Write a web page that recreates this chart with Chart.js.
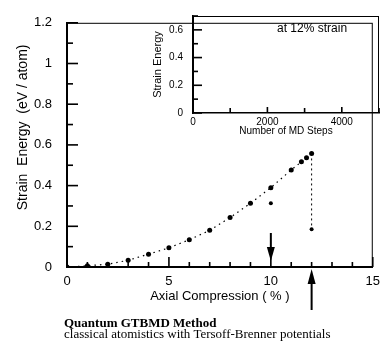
<!DOCTYPE html>
<html>
<head>
<meta charset="utf-8">
<script src="https://cdn.jsdelivr.net/npm/chart.js@4"></script>
<style>
  body { margin: 0; background: #fff; }
  #wrap { position: relative; width: 387px; height: 350px; overflow: hidden; }
  #main { position: absolute; left: 0; top: 0; }
  #inset { position: absolute; left: 130px; top: 0; }
  .cap { position: absolute; left: 64px; font-family: "Liberation Serif", serif; font-size: 13px; line-height: 12px; color: #000; white-space: nowrap; }
  #cap1 { top: 317px; font-weight: bold; }
  #cap2 { top: 328px; }
</style>
</head>
<body>
<div id="wrap">
  <canvas id="main" width="387" height="350"></canvas>
  <canvas id="inset" width="257" height="145"></canvas>
  <div class="cap" id="cap1">Quantum GTBMD Method</div>
  <div class="cap" id="cap2">classical atomistics with Tersoff-Brenner potentials</div>
</div>
<script>
// axial compression (%) and strain energy (eV/atom)
const strainPct = [0, 1, 2, 3, 4, 5, 6, 7, 8, 9, 10, 11, 11.5, 11.75, 12];
const energy = [0, 0.006, 0.014, 0.033, 0.063, 0.094, 0.134, 0.18, 0.243, 0.313, 0.39, 0.477, 0.517, 0.537, 0.558];
const extraPct = [10, 12];
const extraEnergy = [0.313, 0.186];
const dropPct = [12, 12];
const dropEnergy = [0.558, 0.186];

const xTicks = [0, 5, 10, 15];
const yTicks = [0, 0.2, 0.4, 0.6, 0.8, 1, 1.2];
const insetXTicks = [0, 2000, 4000];
const insetYTicks = [0, 0.2, 0.4, 0.6];
const arrowsDown = [10];
const arrowsUp = [12];

const pts = (xs, ys) => xs.map((x, i) => ({x: x, y: ys[i]}));
const font = 'Liberation Sans';

// inward tick settings per chart
const mainTicks = { yStep: 0.1, yN: 12, yEvery: 2, yLong: 11, yShort: 6, xStep: 1, xN: 15, xEvery: 5, xLong: 10, xShort: 5 };
const insetTicks = { yStep: 0.1, yN: 7, yEvery: 2, yLong: 9, yShort: 5, xStep: 1000, xN: 5, xEvery: 2, xLong: 6, xShort: 5 };

// box frame + inward ticks
function makeFrame(t, label) {
  return {
    id: 'frame',
    afterDraw(chart) {
      const ctx = chart.ctx;
      const a = chart.chartArea;
      const x = chart.scales.x, y = chart.scales.y;
      ctx.save();
      ctx.strokeStyle = '#000';
      ctx.lineWidth = 1;
      ctx.strokeRect(a.left + 0.5, a.top + 0.5, a.right - a.left - 1, a.bottom - a.top - 1);
      ctx.fillStyle = '#000';
      for (let i = 0; i <= t.yN; i++) {
        const py = y.getPixelForValue(i * t.yStep);
        const len = i % t.yEvery === 0 ? t.yLong : t.yShort;
        ctx.fillRect(a.left, py - 0.8, len, 1.6);
      }
      for (let i = 0; i <= t.xN; i++) {
        const px = x.getPixelForValue(i * t.xStep);
        const len = i % t.xEvery === 0 ? t.xLong : t.xShort;
        ctx.fillRect(px - 0.8, a.bottom - len, 1.6, len);
      }
      if (label) {
        ctx.font = '12px ' + font;
        ctx.textAlign = 'center';
        ctx.textBaseline = 'middle';
        ctx.fillText(label, a.left + (a.right - a.left) * 0.64, a.top + 13);
      }
      ctx.restore();
    }
  };
}

// arrows marking 10% and 12%
const arrows = {
  id: 'arrows',
  afterDraw(chart) {
    const {ctx, chartArea: a, scales: {x}} = chart;
    ctx.save();
    ctx.strokeStyle = '#000';
    ctx.fillStyle = '#000';
    ctx.lineWidth = 2;
    arrowsDown.forEach(v => {
      const px = x.getPixelForValue(v);
      ctx.beginPath(); ctx.moveTo(px, a.bottom - 34); ctx.lineTo(px, a.bottom - 14); ctx.stroke();
      ctx.beginPath(); ctx.moveTo(px - 4, a.bottom - 20); ctx.lineTo(px + 4, a.bottom - 20); ctx.lineTo(px, a.bottom - 6); ctx.closePath(); ctx.fill();
    });
    arrowsUp.forEach(v => {
      const px = x.getPixelForValue(v);
      ctx.beginPath(); ctx.moveTo(px, a.bottom + 43); ctx.lineTo(px, a.bottom + 12); ctx.stroke();
      ctx.beginPath(); ctx.moveTo(px - 4, a.bottom + 17); ctx.lineTo(px + 4, a.bottom + 17); ctx.lineTo(px, a.bottom + 2); ctx.closePath(); ctx.fill();
    });
    ctx.restore();
  }
};

new Chart(document.getElementById('main'), {
  type: 'scatter',
  data: {
    datasets: [{
      label: 'Quantum GTBMD',
      data: pts(strainPct, energy),
      showLine: true,
      borderColor: '#000',
      backgroundColor: '#000',
      borderWidth: 1.2,
      borderDash: [1.5, 4],
      pointRadius: 2.5,
      pointBorderWidth: 0
    }, {
      label: 'drop',
      data: pts(dropPct, dropEnergy),
      showLine: true,
      borderColor: '#000',
      borderWidth: 1,
      borderDash: [2, 3],
      pointRadius: 0
    }, {
      label: 'classical',
      data: pts(extraPct, extraEnergy),
      borderColor: '#000',
      backgroundColor: '#000',
      pointRadius: 2,
      pointBorderWidth: 0
    }]
  },
  options: {
    responsive: false,
    animation: false,
    layout: { padding: { top: 10, right: 7, left: 0, bottom: 0 } },
    plugins: {
      legend: { display: false },
      tooltip: { enabled: false }
    },
    scales: {
      x: {
        type: 'linear', min: 0, max: 15,
        afterFit: s => { s.height = 83; },
        afterBuildTicks: s => { s.ticks = xTicks.map(v => ({value: v})); },
        grid: { display: false, drawTicks: false },
        border: { color: '#000', width: 2 },
        ticks: { color: '#000', font: { family: font, size: 13 }, padding: 7, callback: v => String(v) },
        title: { display: true, text: 'Axial Compression ( % )', color: '#000', font: { family: font, size: 13 }, padding: { bottom: 46 } }
      },
      y: {
        min: 0, max: 1.2,
        afterFit: s => { s.width = 67; },
        afterBuildTicks: s => { s.ticks = yTicks.map(v => ({value: v})); },
        grid: { display: false, drawTicks: false },
        border: { color: '#000', width: 2 },
        ticks: { color: '#000', font: { family: font, size: 13 }, padding: 15, callback: v => String(v) },
        title: { display: true, text: '         Strain  Energy  (eV / atom)', color: '#000', font: { family: font, size: 14 }, padding: { top: 15 } }
      }
    }
  },
  plugins: [makeFrame(mainTicks, ''), arrows]
});

new Chart(document.getElementById('inset'), {
  type: 'scatter',
  data: { datasets: [] },
  options: {
    responsive: false,
    animation: false,
    layout: { padding: { top: 9, right: 8, left: 0, bottom: 0 } },
    plugins: {
      legend: { display: false },
      tooltip: { enabled: false }
    },
    scales: {
      x: {
        type: 'linear', min: 0, max: 5000,
        afterFit: s => { s.height = 32; },
        afterBuildTicks: s => { s.ticks = insetXTicks.map(v => ({value: v})); },
        grid: { display: false, drawTicks: false },
        border: { color: '#000', width: 1.5 },
        ticks: { color: '#000', font: { family: font, size: 10 }, padding: 3, callback: v => String(v) },
        title: { display: true, text: 'Number of MD Steps', color: '#000', font: { family: font, size: 10 }, padding: { bottom: 8 } }
      },
      y: {
        min: 0, max: 0.7,
        afterFit: s => { s.width = 63; },
        afterBuildTicks: s => { s.ticks = insetYTicks.map(v => ({value: v})); },
        grid: { display: false, drawTicks: false },
        border: { color: '#000', width: 1.5 },
        ticks: { color: '#000', font: { family: font, size: 10 }, padding: 10, callback: v => String(v) },
        title: { display: true, text: 'Strain Energy', color: '#000', font: { family: font, size: 11 }, padding: { top: 21 } }
      }
    }
  },
  plugins: [makeFrame(insetTicks, 'at 12% strain')]
});
</script>
</body>
</html>
